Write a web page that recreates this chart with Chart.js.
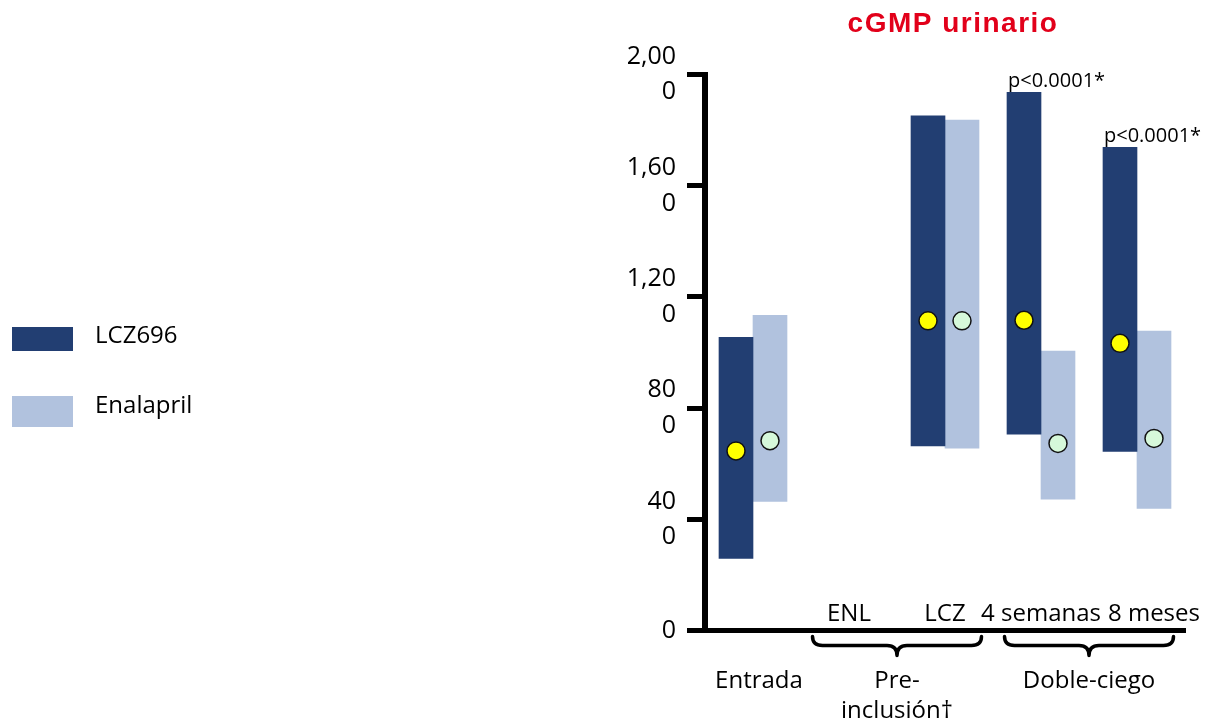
<!DOCTYPE html>
<html>
<head>
<meta charset="utf-8">
<script src="https://cdn.jsdelivr.net/npm/chart.js@4.4.1/dist/chart.umd.min.js"></script>
<style>
    html, body { margin: 0; padding: 0; background: #fff; }
    #wrap { width: 1215px; height: 726px; }
</style>
</head>
<body>
<div id="wrap"><canvas id="cgmpChart" width="1215" height="726"></canvas></div>
<script>
// categories along the x axis and their groups under the braces
const categories = ['Entrada', 'ENL', 'LCZ', '4 semanas', '8 meses'];
const groups = [
    { label: ['Entrada'], cats: [0] },
    { label: ['Pre-', 'inclusión†'], cats: [1, 2] },
    { label: ['Doble-ciego'], cats: [3, 4] }
];

// range bars [low, high] and the median markers
const lczRange = [[259, 1055], null, [664, 1851], [706, 1936], [644, 1738]];
const enlRange = [[464, 1134], null, [656, 1836], [472, 1005], [439, 1077]];
const lczMedian = [646, null, 1114, 1116, 1033];
const enlMedian = [683, null, 1114, 673, 691];
const pLabels = [null, null, null, 'p<0.0001*', 'p<0.0001*'];

const yTicks = [0, 400, 800, 1200, 1600, 2000];
const chartTitle = 'cGMP urinario';

const FONT = "'Open Sans', sans-serif";
const DARK = '#223e72';
const LIGHT = '#b1c2de';
const BAR_W = 34;      // px, one bar of a pair
const STEP = 96;       // px between category centres (480 px plot / 5)

document.addEventListener('DOMContentLoaded', function () {
    const ctx = document.getElementById('cgmpChart').getContext('2d');

    // markers sit on the centre of their own bar in the pair
    const shift = BAR_W / 2 / STEP;
    function markers(values, dir) {
        return values
            .map((v, i) => (v === null ? null : { x: i + dir * shift, y: v }))
            .filter(Boolean);
    }

    // "2,000" is wrapped over two lines in the original
    function tickText(v) {
        const s = v.toLocaleString('en-US');
        return s.length > 1 ? [s.slice(0, -1), s.slice(-1)] : s;
    }

    const decorations = {
        id: 'decorations',
        afterDraw(chart) {
            const { ctx, chartArea, scales } = chart;
            const x = scales.x;
            const step = x.getPixelForValue(1) - x.getPixelForValue(0);
            ctx.save();

            // title
            ctx.font = "bold 28px 'Liberation Sans', Arial, sans-serif";
            ctx.fillStyle = '#e2001a';
            ctx.textAlign = 'center';
            ctx.textBaseline = 'alphabetic';
            ctx.letterSpacing = '1.5px';
            ctx.fillText(chartTitle, (chartArea.left + chartArea.right) / 2 + 8, 32);
            ctx.letterSpacing = '0px';

            // legend
            ctx.font = '24px ' + FONT;
            ctx.textAlign = 'left';
            const legendRows = [{ y: 327, h: 24, base: 343 }, { y: 396, h: 31, base: 413 }];
            chart.data.datasets.filter(d => d.type === 'bar').forEach((d, i) => {
                const r = legendRows[i];
                ctx.fillStyle = d.backgroundColor;
                ctx.fillRect(12, r.y, 61, r.h);
                ctx.fillStyle = '#000';
                ctx.fillText(d.label, 95, r.base);
            });

            // category names sitting above the x axis
            ctx.fillStyle = '#000';
            let prevRight = -Infinity;
            groups.filter(g => g.cats.length > 1).forEach(g => {
                g.cats.forEach(c => {
                    const w = ctx.measureText(categories[c]).width;
                    let left = x.getPixelForValue(c) - w / 2;
                    if (left < prevRight + 7) left = prevRight + 7;
                    ctx.fillText(categories[c], left, chartArea.bottom - 10);
                    prevRight = left + w;
                });
            });

            // braces and group names under the axis
            ctx.strokeStyle = '#000';
            ctx.lineWidth = 3.5;
            ctx.lineJoin = 'round';
            ctx.lineCap = 'round';
            ctx.textAlign = 'center';
            groups.forEach(g => {
                const first = g.cats[0];
                const last = g.cats[g.cats.length - 1];
                let mid = x.getPixelForValue(first) + 6;
                if (g.cats.length > 1) {
                    const x1 = x.getPixelForValue(first) - 0.38 * step;
                    const x2 = x.getPixelForValue(last) + 0.38 * step;
                    mid = (x1 + x2) / 2;
                    const y0 = chartArea.bottom + 6, y1 = chartArea.bottom + 15, y2 = chartArea.bottom + 25, r = 10;
                    ctx.beginPath();
                    ctx.moveTo(x1, y0);
                    ctx.quadraticCurveTo(x1, y1, x1 + r, y1);
                    ctx.lineTo(mid - r, y1);
                    ctx.quadraticCurveTo(mid, y1, mid, y2);
                    ctx.quadraticCurveTo(mid, y1, mid + r, y1);
                    ctx.lineTo(x2 - r, y1);
                    ctx.quadraticCurveTo(x2, y1, x2, y0);
                    ctx.stroke();
                }
                g.label.forEach((line, k) => {
                    ctx.fillText(line, mid, chartArea.bottom + 57 + k * 30);
                });
            });

            // p-values over the LCZ696 bars
            ctx.font = '20px ' + FONT;
            ctx.textAlign = 'left';
            const meta = chart.getDatasetMeta(2);
            pLabels.forEach((p, i) => {
                if (!p) return;
                const bar = meta.data[i];
                ctx.fillText(p, bar.x - bar.width / 2 + 1, bar.y - 5);
            });

            ctx.restore();
        }
    };

    const cgmpChart = new Chart(ctx, {
        data: {
            labels: categories,
            datasets: [
                {
                    type: 'line',
                    label: 'LCZ696 mediana',
                    data: markers(lczMedian, -1),
                    xAxisID: 'xp',
                    showLine: false,
                    pointRadius: 9,
                    pointBackgroundColor: '#ffff00',
                    pointBorderColor: '#111',
                    pointBorderWidth: 1.5,
                    order: 0
                },
                {
                    type: 'line',
                    label: 'Enalapril mediana',
                    data: markers(enlMedian, 1),
                    xAxisID: 'xp',
                    showLine: false,
                    pointRadius: 9,
                    pointBackgroundColor: '#d6f8da',
                    pointBorderColor: '#111',
                    pointBorderWidth: 1.5,
                    order: 0
                },
                {
                    type: 'bar',
                    label: 'LCZ696',
                    data: lczRange,
                    backgroundColor: DARK,
                    barThickness: BAR_W,
                    order: 1
                },
                {
                    type: 'bar',
                    label: 'Enalapril',
                    data: enlRange,
                    backgroundColor: LIGHT,
                    barThickness: BAR_W,
                    order: 1
                }
            ]
        },
        options: {
            responsive: false,
            animation: false,
            devicePixelRatio: 1,
            layout: {
                padding: { left: 605, right: 30, top: 74.5, bottom: 95.5 }
            },
            scales: {
                x: {
                    type: 'category',
                    offset: true,
                    ticks: { display: false },
                    grid: { display: false },
                    border: { display: true, color: '#000', width: 5 },
                    afterFit(scale) { scale.height = 0; }
                },
                xp: {
                    type: 'linear',
                    display: false,
                    min: -0.5,
                    max: 4.5
                },
                y: {
                    min: 0,
                    max: 2000,
                    afterBuildTicks(scale) {
                        scale.ticks = yTicks.map(v => ({ value: v }));
                    },
                    afterFit(scale) { scale.width = 100; },
                    ticks: {
                        callback: v => tickText(v),
                        color: '#000',
                        padding: 11,
                        font: { family: FONT, size: 25, lineHeight: 1.42 }
                    },
                    grid: {
                        drawOnChartArea: false,
                        color: '#000',
                        lineWidth: 5,
                        tickLength: 18
                    },
                    border: { display: true, color: '#000', width: 6 }
                }
            },
            plugins: {
                legend: { display: false },
                tooltip: { enabled: false },
                title: { display: false }
            }
        },
        plugins: [decorations]
    });
});
</script>
</body>
</html>
